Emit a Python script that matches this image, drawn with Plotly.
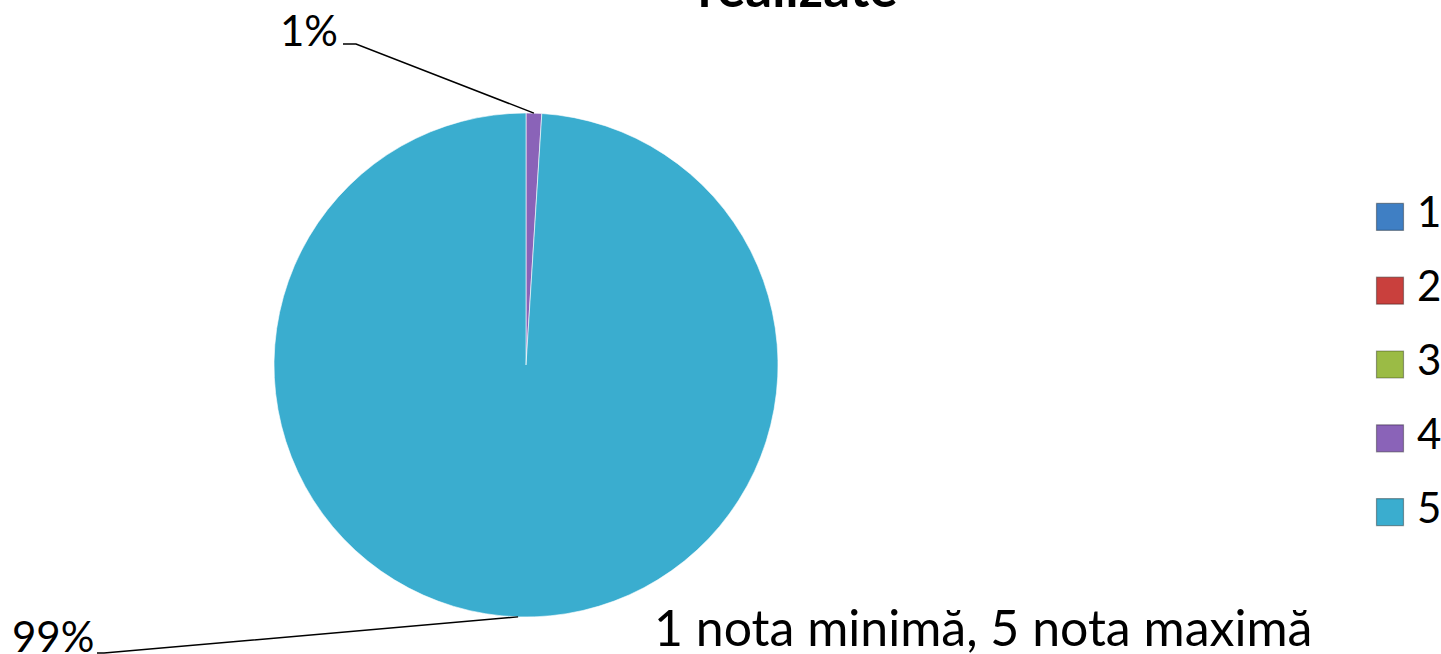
import math
import plotly.graph_objects as go

# ---- data ----
labels = ["1", "2", "3", "4", "5"]
values = [0, 0, 0, 1, 99]
colors = ["#3F7FC4", "#C9403D", "#9BBB45", "#8A63B8", "#3AADCF"]
pct_labels = {"4": "1%", "5": "99%"}
title_text = "realizate"
note_text = "1 nota minimă, 5 nota maximă"

W, H = 1441, 654
FONT = "Lato, Carlito, Calibri, sans-serif"

# pie geometry (window pixels)
cx, cy, r = 526, 365, 252

def px(x):
    return x / W

def py(y):
    return 1 - y / H

fig = go.Figure()
fig.add_trace(go.Pie(
    labels=labels, values=values, sort=False, direction="clockwise", rotation=0,
    marker=dict(colors=colors, line=dict(color="rgba(255,255,255,0.6)", width=1)),
    textinfo="none", hoverinfo="label+percent", showlegend=False,
    domain=dict(x=[px(cx - r), px(cx + r)], y=[py(cy + r), py(cy - r)]),
))

# legend drawn as a small categorical scatter
fig.add_trace(go.Scatter(
    x=[0] * len(labels), y=labels, mode="markers", showlegend=False, hoverinfo="skip",
    marker=dict(symbol="square", size=27, color=colors,
                line=dict(color="rgba(0,0,0,0.35)", width=1.2)),
    xaxis="x", yaxis="y",
))
fig.add_trace(go.Scatter(
    x=[27] * len(labels), y=labels, mode="text", text=labels, textposition="middle right",
    showlegend=False, hoverinfo="skip",
    textfont=dict(size=42, color="black", family=FONT),
    xaxis="x", yaxis="y",
))

# leader lines computed from slice mid-angles
total = sum(values)
cum = 0
shapes = []
annotations = []
# (horizontal-end x, y of elbow, elbow x, text right x, text middle y)
label_pos = {"4": (343, 44, 356, 340, 30), "5": (97, 653, 104, 96, 636)}
for lab, v in zip(labels, values):
    if v > 0 and lab in pct_labels:
        mid = (cum + v / 2) / total * 2 * math.pi
        ex = cx + r * math.sin(mid)
        ey = cy - r * math.cos(mid)
        lx, ly, hx, tx, ty = label_pos[lab]
        path = f"M {px(ex)} {py(ey)} L {px(hx)} {py(ly)} L {px(lx)} {py(ly)}"
        shapes.append(dict(type="path", xref="paper", yref="paper", path=path,
                           line=dict(color="black", width=1.5)))
        annotations.append(dict(text=pct_labels[lab], x=px(tx), y=py(ty),
                                xref="paper", yref="paper", xanchor="right", yanchor="middle",
                                showarrow=False, font=dict(size=42, color="black", family=FONT)))
    cum += v

annotations.append(dict(text=f"<b>{title_text}</b>", x=px(798), y=py(-13), xref="paper", yref="paper",
                        xanchor="center", yanchor="middle", showarrow=False,
                        font=dict(size=53, color="black", family=FONT)))
annotations.append(dict(text=note_text, x=px(983), y=py(627), xref="paper", yref="paper",
                        xanchor="center", yanchor="middle", showarrow=False,
                        font=dict(size=50, color="black", family=FONT)))

fig.update_layout(
    width=W, height=H,
    margin=dict(l=0, r=0, t=0, b=0),
    paper_bgcolor="white", plot_bgcolor="rgba(0,0,0,0)",
    xaxis=dict(domain=[px(1370), px(1441)], range=[-20, 51], visible=False, fixedrange=True),
    yaxis=dict(domain=[py(549), py(180)], type="category", categoryorder="array",
               categoryarray=labels, range=[4.5, -0.5], visible=False, fixedrange=True),
    shapes=shapes, annotations=annotations, showlegend=False,
)

fig.write_html("out.html", config={"displayModeBar": False},
               post_script="document.body.style.margin='0';")
